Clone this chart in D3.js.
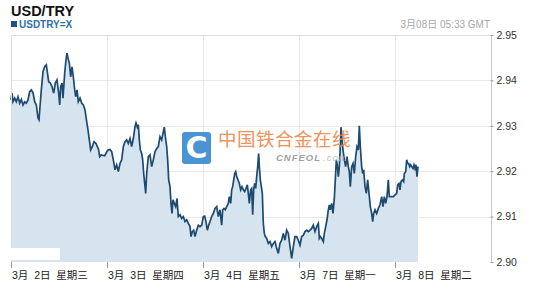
<!DOCTYPE html>
<html>
<head>
<meta charset="utf-8">
<script src="https://cdn.jsdelivr.net/npm/d3@7/dist/d3.min.js"></script>
<style>
  html, body { margin: 0; padding: 0; background: #fff; }
  svg { display: block; font-family: "Liberation Sans", Arial, "Noto Sans CJK SC", sans-serif; }
</style>
</head>
<body>
<svg id="chart" width="535" height="293"></svg>
<script>
// Trading-clock hours since 3月2日 00:00 GMT (weekend removed)
const sessionHours = [
  0, 0.25, 0.5, 0.92, 1.33, 1.75, 2.17, 2.58, 3.0, 3.42, 3.83, 4.25, 4.67, 5.08, 5.5, 5.92, 6.33, 6.75, 7.0, 7.25,
  7.58, 8.0, 8.42, 8.83, 9.08, 9.42, 9.83, 10.25, 10.67, 11.08, 11.5, 11.92, 12.17, 12.42, 12.75, 13.0, 13.42, 13.75, 14.0, 14.25,
  14.58, 14.92, 15.25, 15.58, 15.83, 16.17, 16.5, 16.83, 17.25, 17.67, 18.08, 18.5, 18.92, 19.25, 19.58, 19.92, 20.33, 20.75, 21.25, 21.58,
  21.92, 22.17, 22.58, 23.42, 24.08, 24.33, 24.75, 25.17, 25.58, 26.0, 26.42, 26.83, 27.25, 27.67, 28.08, 28.5, 28.92, 29.33, 29.75, 30.17,
  30.58, 31.0, 31.25, 31.58, 31.83, 32.08, 32.33, 32.67, 32.92, 33.17, 33.42, 33.67, 33.92, 34.33, 34.75, 35.17, 35.58, 36.0, 36.42, 36.83,
  37.25, 37.67, 38.08, 38.33, 38.58, 38.92, 39.17, 39.42, 39.75, 40.0, 40.25, 40.5, 40.83, 41.17, 41.5, 41.83, 42.25, 42.67, 43.08, 43.5,
  43.92, 44.33, 44.75, 45.0, 45.33, 45.67, 46.0, 46.42, 46.83, 47.25, 47.67, 48.08, 48.42, 48.75, 49.08, 49.42, 49.75, 50.17, 50.58, 51.0,
  51.42, 51.83, 52.25, 52.67, 52.92, 53.25, 53.58, 53.92, 54.33, 54.58, 54.92, 55.17, 55.42, 55.67, 55.92, 56.17, 56.42, 56.75, 57.08, 57.42,
  57.75, 58.08, 58.42, 58.75, 59.08, 59.33, 59.58, 59.92, 60.17, 60.42, 60.67, 60.92, 61.17, 61.42, 61.67, 61.92, 62.08, 62.33, 62.58, 62.83,
  63.08, 63.33, 63.58, 63.92, 64.33, 64.75, 65.17, 65.58, 66.0, 66.42, 66.83, 67.25, 67.67, 68.08, 68.5, 68.92, 69.33, 69.75, 70.17, 70.58,
  71.0, 71.42, 71.83, 72.25, 72.67, 73.08, 73.5, 73.92, 74.33, 74.75, 75.17, 75.58, 76.0, 76.42, 76.83, 77.08, 77.33, 77.67, 78.08, 78.33,
  78.67, 79.0, 79.33, 79.58, 79.83, 80.17, 80.5, 80.83, 81.08, 81.33, 81.58, 81.83, 82.08, 82.33, 82.5, 82.75, 83.0, 83.33, 83.67, 84.0,
  84.33, 84.58, 84.83, 85.17, 85.5, 85.83, 86.17, 86.5, 86.83, 87.08, 87.33, 87.67, 87.92, 88.17, 88.5, 88.83, 89.17, 89.5, 89.83, 90.17,
  90.42, 90.67, 91.0, 91.42, 91.83, 92.25, 92.67, 93.0, 93.33, 93.67, 94.0, 94.33, 94.58, 95.0, 95.58, 96.0, 96.42, 96.67, 97.0, 97.25,
  97.5, 97.83, 98.17, 98.33, 98.67, 98.92, 99.17, 99.42, 99.67, 99.92, 100.17, 100.5, 100.75, 101.0, 101.25, 101.5, 101.75
];

// USD/TRY quotes at those hours
const usdTry = [
  2.9357, 2.9372, 2.9353, 2.9361, 2.9353, 2.9364, 2.9350, 2.9358, 2.9346, 2.9353, 2.9350, 2.9357, 2.9375, 2.9379, 2.9373, 2.9353, 2.9346, 2.9317, 2.9313, 2.9342,
  2.9379, 2.9419, 2.9430, 2.9434, 2.9419, 2.9397, 2.9394, 2.9386, 2.9372, 2.9394, 2.9401, 2.9372, 2.9346, 2.9386, 2.9394, 2.9361, 2.9416, 2.9445, 2.9460, 2.9449,
  2.9438, 2.9408, 2.9430, 2.9408, 2.9386, 2.9364, 2.9379, 2.9353, 2.9361, 2.9350, 2.9346, 2.9335, 2.9309, 2.9291, 2.9269, 2.9247, 2.9254, 2.9265, 2.9261, 2.9254,
  2.9247, 2.9232, 2.9236, 2.9234, 2.9245, 2.9247, 2.9248, 2.9243, 2.9225, 2.9203, 2.9214, 2.9199, 2.9217, 2.9225, 2.9254, 2.9265, 2.9269, 2.9261, 2.9272, 2.9254,
  2.9272, 2.9298, 2.9306, 2.9297, 2.9302, 2.9269, 2.9247, 2.9239, 2.9225, 2.9195, 2.9173, 2.9151, 2.9195, 2.9232, 2.9236, 2.9210, 2.9225, 2.9243, 2.9250, 2.9254,
  2.9276, 2.9269, 2.9287, 2.9297, 2.9276, 2.9254, 2.9225, 2.9181, 2.9166, 2.9129, 2.9107, 2.9137, 2.9129, 2.9122, 2.9140, 2.9100, 2.9104, 2.9096, 2.9100, 2.9089,
  2.9093, 2.9085, 2.9078, 2.9056, 2.9067, 2.9070, 2.9056, 2.9070, 2.9081, 2.9078, 2.9081, 2.9100, 2.9101, 2.9089, 2.9070, 2.9081, 2.9089, 2.9100, 2.9107, 2.9118,
  2.9122, 2.9100, 2.9115, 2.9081, 2.9115, 2.9118, 2.9115, 2.9122, 2.9129, 2.9144, 2.9129, 2.9159, 2.9166, 2.9181, 2.9195, 2.9199, 2.9188, 2.9181, 2.9173, 2.9159,
  2.9166, 2.9159, 2.9155, 2.9162, 2.9170, 2.9151, 2.9129, 2.9159, 2.9162, 2.9104, 2.9159, 2.9173, 2.9162, 2.9188, 2.9210, 2.9239, 2.9210, 2.9181, 2.9166, 2.9151,
  2.9085, 2.9063, 2.9056, 2.9052, 2.9041, 2.9045, 2.9034, 2.9041, 2.9045, 2.9030, 2.9019, 2.9041, 2.9048, 2.9063, 2.9048, 2.9070, 2.9063, 2.9034, 2.9008, 2.9034,
  2.9056, 2.9056, 2.9048, 2.9037, 2.9056, 2.9059, 2.9067, 2.9070, 2.9067, 2.9070, 2.9074, 2.9081, 2.9067, 2.9078, 2.9085, 2.9052, 2.9056, 2.9052, 2.9045, 2.9063,
  2.9078, 2.9093, 2.9115, 2.9126, 2.9115, 2.9129, 2.9107, 2.9140, 2.9181, 2.9225, 2.9214, 2.9188, 2.9210, 2.9254, 2.9297, 2.9269, 2.9247, 2.9225, 2.9210, 2.9232,
  2.9210, 2.9199, 2.9166, 2.9210, 2.9217, 2.9195, 2.9232, 2.9254, 2.9247, 2.9300, 2.9254, 2.9210, 2.9195, 2.9203, 2.9166, 2.9151, 2.9181, 2.9151, 2.9122, 2.9107,
  2.9089, 2.9107, 2.9115, 2.9107, 2.9118, 2.9126, 2.9144, 2.9122, 2.9144, 2.9129, 2.9144, 2.9181, 2.9144, 2.9144, 2.9144, 2.9148, 2.9151, 2.9170, 2.9173, 2.9159,
  2.9177, 2.9181, 2.9177, 2.9195, 2.9199, 2.9225, 2.9217, 2.9217, 2.9210, 2.9214, 2.9210, 2.9206, 2.9214, 2.9206, 2.9214, 2.9188, 2.9210
];

// Day boundaries on the trading clock and their labels
const dayTicks = [0, 24, 48, 72, 96];
const dayLabels = ["3月  2日  星期三", "3月  3日  星期四", "3月  4日  星期五", "3月  7日  星期一", "3月  8日  星期二"];
const rateTicks = [2.90, 2.91, 2.92, 2.93, 2.94, 2.95];

const titleText = "USD/TRY";
const symbolText = "USDTRY=X";
const stampText = "3月08日  05:33 GMT";

const svg = d3.select("#chart");
const plotLeft = 11, plotRight = 491, plotTop = 35, plotBottom = 262;

const x = d3.scaleLinear().domain([0, 120]).range([plotLeft, plotRight]);
const y = d3.scaleLinear().domain([2.90, 2.95]).range([plotBottom, plotTop]);

const series = sessionHours.map((h, i) => ({ h, v: usdTry[i] }));

// Header
svg.append("text").attr("x", 11).attr("y", 16)
  .attr("font-size", 14.5).attr("font-weight", "bold").attr("fill", "#111")
  .text(titleText);
svg.append("rect").attr("x", 11).attr("y", 21).attr("width", 6).attr("height", 6).attr("fill", "#1f5283");
svg.append("text").attr("x", 19).attr("y", 27.5)
  .attr("font-size", 10).attr("font-weight", "bold").attr("fill", "#2f6fa8")
  .text(symbolText);
svg.append("text").attr("x", 490).attr("y", 27.5).attr("text-anchor", "end")
  .attr("font-size", 10).attr("fill", "#a8a8a8")
  .text(stampText);

// Area under the quotes
svg.append("path").datum(series)
  .attr("fill", "#d6e4f0")
  .attr("d", d3.area().x(d => x(d.h)).y0(plotBottom).y1(d => y(d.v)));

// Grid, drawn faintly over the fill
const grid = svg.append("g").attr("stroke-opacity", 0.75);
grid.selectAll("line.h").data(rateTicks.slice(1, 5)).join("line").attr("class", "h")
  .attr("x1", plotLeft).attr("x2", plotRight)
  .attr("y1", d => Math.round(y(d)) + 0.5).attr("y2", d => Math.round(y(d)) + 0.5)
  .attr("stroke", "#e2e2e2");
grid.selectAll("line.v").data(dayTicks.slice(1)).join("line").attr("class", "v")
  .attr("x1", d => Math.round(x(d)) + 0.5).attr("x2", d => Math.round(x(d)) + 0.5)
  .attr("y1", plotTop).attr("y2", plotBottom)
  .attr("stroke", "#e2e2e2");

// Quote line
svg.append("path").datum(series)
  .attr("fill", "none").attr("stroke", "#1d4a70").attr("stroke-width", 1.7)
  .attr("d", d3.line().x(d => x(d.h)).y(d => y(d.v)));

// Frame
svg.append("line").attr("x1", plotLeft).attr("x2", plotRight).attr("y1", plotTop + 0.5).attr("y2", plotTop + 0.5).attr("stroke", "#dedede");
svg.append("line").attr("x1", plotLeft + 0.5).attr("x2", plotLeft + 0.5).attr("y1", plotTop).attr("y2", plotBottom).attr("stroke", "#dedede");

// Right value axis
const yAxis = d3.axisRight(y).tickValues(rateTicks).tickFormat(d3.format(".2f")).tickSize(3).tickPadding(2);
const ya = svg.append("g").attr("transform", `translate(${plotRight + 0.5},0)`).call(yAxis);
ya.select(".domain").attr("stroke", "#c8c8c8").attr("d", `M0,${plotTop}V${plotBottom}`);
ya.selectAll(".tick line").attr("stroke", "#999").attr("x1", -1).attr("x2", 2);
ya.selectAll(".tick text").attr("font-size", 10.5).attr("fill", "#333")
  .attr("font-family", "'Liberation Sans', Arial, sans-serif");

// Bottom day axis
const xa = svg.append("g");
xa.selectAll("line").data(dayTicks).join("line")
  .attr("x1", d => Math.round(x(d)) + 0.5).attr("x2", d => Math.round(x(d)) + 0.5)
  .attr("y1", plotBottom).attr("y2", plotBottom + 6)
  .attr("stroke", "#999");
xa.selectAll("text").data(dayTicks).join("text")
  .attr("x", d => x(d) + 1).attr("y", 279)
  .attr("font-size", 10.5).attr("fill", "#222")
  .attr("font-family", "'Liberation Sans', 'Noto Sans CJK SC', sans-serif")
  .style("white-space", "pre")
  .text((d, i) => dayLabels[i]);

// Blank legend patch in the lower-left corner
svg.append("rect").attr("x", 11).attr("y", 248).attr("width", 49).attr("height", 12).attr("fill", "#fff");

// Site mark
const mark = svg.append("g").attr("opacity", 0.92);
mark.append("rect").attr("x", 182).attr("y", 132).attr("width", 29).attr("height", 32).attr("rx", 3)
  .attr("fill", "#3b8bd0");
mark.append("text").attr("x", 196.5).attr("y", 158).attr("text-anchor", "middle")
  .attr("font-size", 30).attr("font-weight", "bold").attr("fill", "#fff")
  .attr("font-family", "'DejaVu Sans', sans-serif")
  .text("C");
mark.append("text").attr("x", 218).attr("y", 145.5)
  .attr("font-size", 18.5).attr("fill", "#f08a4e").attr("letter-spacing", 0.5)
  .attr("font-family", "'Noto Sans CJK SC', sans-serif")
  .text("中国铁合金在线");
mark.append("text").attr("x", 276).attr("y", 161)
  .attr("font-size", 9.5).attr("font-weight", "bold").attr("font-style", "italic").attr("fill", "#9a9a9a")
  .attr("letter-spacing", 1)
  .text("CNFEOL");
mark.append("text").attr("x", 323).attr("y", 161)
  .attr("font-size", 9.5).attr("font-style", "italic").attr("fill", "#bbbbbb")
  .attr("letter-spacing", 1)
  .text(".com");
</script>
</body>
</html>
